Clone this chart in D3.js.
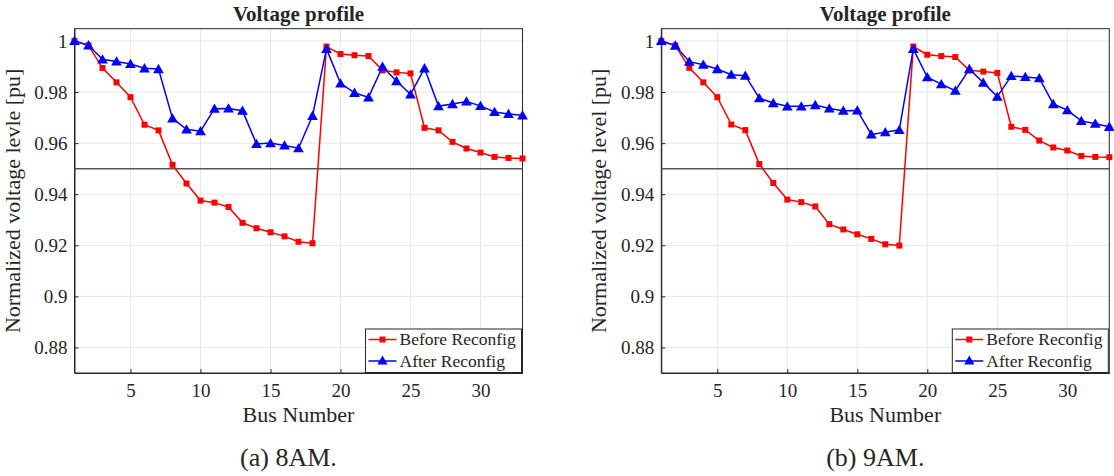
<!DOCTYPE html>
<html>
<head>
<meta charset="utf-8">
<script src="https://cdn.jsdelivr.net/npm/d3@7"></script>
<style>
  body { margin: 0; background: #fff; }
  svg text { font-family: "Liberation Serif", "Times New Roman", serif; fill: #262626; }
</style>
</head>
<body>
<svg id="chart" width="1114" height="476"></svg>
<script>
//Bus numbers on the x axis
var busNumbers = [1, 2, 3, 4, 5, 6, 7, 8, 9, 10, 11, 12, 13, 14, 15, 16, 17,
  18, 19, 20, 21, 22, 23, 24, 25, 26, 27, 28, 29, 30, 31, 32, 33];

//Voltage levels, 8AM
var before8 = [1.000, 0.9983, 0.9894, 0.9838, 0.978, 0.9672, 0.965, 0.9515, 0.9442, 0.9375,
  0.9367, 0.935, 0.9288, 0.9267, 0.9251, 0.9235, 0.9214, 0.9208, 0.9978, 0.9949,
  0.9944, 0.9941, 0.9885, 0.9877, 0.9873, 0.966, 0.965, 0.9605, 0.9579, 0.9563,
  0.9546, 0.9542, 0.954];
var after8 = [1.000, 0.9983, 0.9928, 0.992, 0.991, 0.9893, 0.989, 0.9697, 0.9654, 0.9647,
  0.9735, 0.9736, 0.9727, 0.9597, 0.96, 0.9591, 0.958, 0.9707, 0.9969, 0.9834,
  0.9797, 0.9779, 0.9899, 0.9843, 0.9791, 0.9893, 0.9745, 0.9753, 0.9763, 0.9746,
  0.9722, 0.9714, 0.9709];

//Voltage levels, 9AM
var before9 = [1.000, 0.9982, 0.9895, 0.9838, 0.978, 0.9673, 0.9651, 0.9518, 0.9444, 0.9379,
  0.9369, 0.9352, 0.9283, 0.9262, 0.9243, 0.9225, 0.9204, 0.9199, 0.9978, 0.9946,
  0.9941, 0.9937, 0.9885, 0.988, 0.9875, 0.9664, 0.9652, 0.961, 0.9583, 0.9571,
  0.955, 0.9546, 0.9545];
var after9 = [1.000, 0.9982, 0.9919, 0.9907, 0.989, 0.9868, 0.9864, 0.9776, 0.9757, 0.9744,
  0.9744, 0.9749, 0.9736, 0.9727, 0.9728, 0.9634, 0.9643, 0.9652, 0.9969, 0.9858,
  0.9831, 0.9805, 0.989, 0.9837, 0.9782, 0.9863, 0.9859, 0.9854, 0.9753, 0.9729,
  0.9687, 0.9676, 0.9664];

var xTicks = [5, 10, 15, 20, 25, 30];
var yTicks = [0.88, 0.9, 0.92, 0.94, 0.96, 0.98, 1];
var limitValue = 0.95;

var seriesNames = ["Before Reconfig", "After Reconfig"];
var seriesColors = ["#ff0000", "#0000ff"];

var svg = d3.select("svg#chart");

//Layout of each panel
var panels = [
  { left: 74.5, before: before8, after: after8, ylabel: "Normalized voltage levle [pu]", caption: "(a) 8AM." },
  { left: 661.3, before: before9, after: after9, ylabel: "Normalized voltage level [pu]", caption: "(b) 9AM." }
];
var plotWidth = 448, plotTop = 28.7, plotBottom = 373;

panels.forEach(drawPanel);

function drawPanel(p) {
  var x = d3.scaleLinear().domain([1, 33]).range([p.left, p.left + plotWidth]);
  var y = d3.scaleLinear().domain([0.87, 1.0048]).range([plotBottom, plotTop]);

  var g = svg.append("g");

  //Grid lines
  g.selectAll(".gx").data(xTicks).enter().append("line")
    .attr("x1", function (d) { return x(d); }).attr("x2", function (d) { return x(d); })
    .attr("y1", plotTop).attr("y2", plotBottom)
    .attr("stroke", "#e6e6e6").attr("stroke-width", 1);
  g.selectAll(".gy").data(yTicks).enter().append("line")
    .attr("x1", p.left).attr("x2", p.left + plotWidth)
    .attr("y1", function (d) { return y(d); }).attr("y2", function (d) { return y(d); })
    .attr("stroke", "#e6e6e6").attr("stroke-width", 1);

  //Axes (ticks inside, like matlab)
  var xAxis = d3.axisBottom(x).tickValues(xTicks).tickSizeInner(-4).tickSizeOuter(0).tickPadding(10.5);
  var yAxis = d3.axisLeft(y).tickValues(yTicks).tickSizeInner(-4).tickSizeOuter(0).tickPadding(7)
    .tickFormat(function (d) { return String(+d.toFixed(2)); });

  var gx = g.append("g").attr("transform", "translate(0," + plotBottom + ")").call(xAxis);
  var gy = g.append("g").attr("transform", "translate(" + p.left + ",0)").call(yAxis);
  [gx, gy].forEach(function (a) {
    a.selectAll("path, line").attr("stroke", "#262626");
    a.selectAll("text").style("font-size", "19px").attr("fill", "#262626")
      .style("font-family", "'Liberation Serif', serif");
  });

  //Box around the plot
  g.append("rect")
    .attr("x", p.left).attr("y", plotTop)
    .attr("width", plotWidth).attr("height", plotBottom - plotTop)
    .attr("fill", "none").attr("stroke", "#262626").attr("stroke-width", 1);

  //0.95 limit line
  g.append("line")
    .attr("x1", p.left).attr("x2", p.left + plotWidth)
    .attr("y1", y(limitValue)).attr("y2", y(limitValue))
    .attr("stroke", "#555555").attr("stroke-width", 1.5);

  var line = d3.line()
    .x(function (d, i) { return x(busNumbers[i]); })
    .y(function (d) { return y(d); });

  //Before reconfig (red, squares)
  g.append("path").datum(p.before)
    .attr("d", line).attr("fill", "none")
    .attr("stroke", seriesColors[0]).attr("stroke-width", 1.5);
  g.selectAll(".sq").data(p.before).enter().append("rect")
    .attr("x", function (d, i) { return x(busNumbers[i]) - 3; })
    .attr("y", function (d) { return y(d) - 3; })
    .attr("width", 6).attr("height", 6)
    .attr("fill", seriesColors[0]);

  //After reconfig (blue, triangles)
  var tri = d3.symbol().type(d3.symbolTriangle).size(50);
  g.append("path").datum(p.after)
    .attr("d", line).attr("fill", "none")
    .attr("stroke", seriesColors[1]).attr("stroke-width", 1.5);
  g.selectAll(".tri").data(p.after).enter().append("path")
    .attr("d", tri)
    .attr("transform", function (d, i) { return "translate(" + x(busNumbers[i]) + "," + (y(d) + 1) + ")"; })
    .attr("fill", seriesColors[1]);

  //Title and labels
  var cx = p.left + plotWidth / 2;
  g.append("text").attr("x", cx).attr("y", 21)
    .attr("text-anchor", "middle").style("font-size", "21px").style("font-weight", "bold")
    .attr("fill", "#000").text("Voltage profile");
  g.append("text").attr("x", cx).attr("y", 422)
    .attr("text-anchor", "middle").style("font-size", "22px").text("Bus Number");
  g.append("text")
    .attr("transform", "translate(" + (p.left - 55) + "," + ((plotTop + plotBottom) / 2) + ") rotate(-90)")
    .attr("text-anchor", "middle").style("font-size", "22px").text(p.ylabel);
  g.append("text").attr("x", cx - 10).attr("y", 466)
    .attr("text-anchor", "middle").style("font-size", "26px").attr("fill", "#000").text(p.caption);

  //Legend
  var lx = p.left + plotWidth - 157, ly = plotBottom - 44;
  var legend = g.append("g").attr("transform", "translate(" + lx + "," + ly + ")");
  legend.append("rect").attr("width", 156).attr("height", 43.5)
    .attr("fill", "#fff").attr("stroke", "#262626").attr("stroke-width", 1);
  seriesNames.forEach(function (name, i) {
    var yy = 10.5 + i * 21.5;
    legend.append("line").attr("x1", 3).attr("x2", 31).attr("y1", yy).attr("y2", yy)
      .attr("stroke", seriesColors[i]).attr("stroke-width", 1.5);
    if (i === 0) {
      legend.append("rect").attr("x", 17 - 3).attr("y", yy - 3).attr("width", 6).attr("height", 6)
        .attr("fill", seriesColors[i]);
    } else {
      legend.append("path").attr("d", d3.symbol().type(d3.symbolTriangle).size(45))
        .attr("transform", "translate(17," + (yy + 0.5) + ")").attr("fill", seriesColors[i]);
    }
    legend.append("text").attr("x", 34).attr("y", yy + 5.5)
      .style("font-size", "17.5px").attr("fill", "#000").text(name);
  });
}
</script>
</body>
</html>
